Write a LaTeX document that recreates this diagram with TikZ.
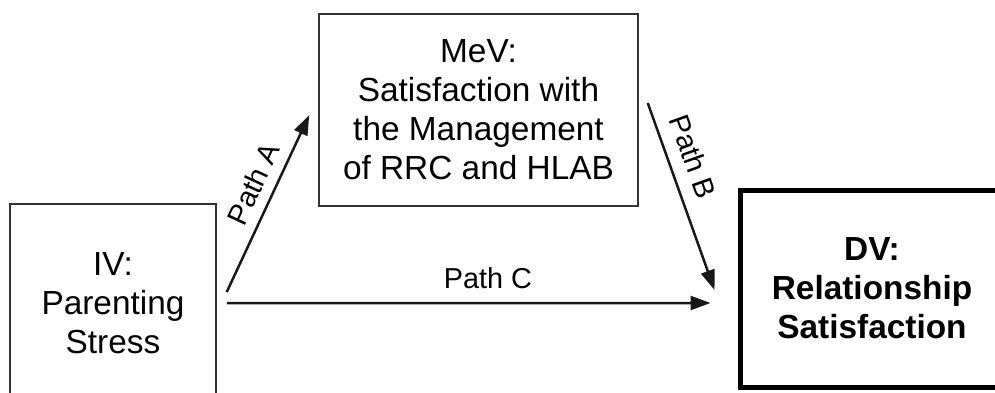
\documentclass[tikz,border=0pt]{standalone}
\usepackage{fontspec}
\setmainfont{Liberation Sans}
\usetikzlibrary{arrows.meta}

\tikzset{
	varbox/.style={draw, line width=0.3mm, color=black!80, text=black, align=center, inner sep=0pt, font=\fontsize{19}{22.2}\selectfont},
	patharrow/.style={line width=0.5mm, color=black!90, -{Triangle[length=0.4cm, width=0.28cm]}},
	pathlabel/.style={font=\fontsize{16.4}{19}\selectfont, text=black, sloped, inner sep=0pt}
}

\begin{document}
\begin{tikzpicture}
	%%%%% START %%%%%
	
	\useasboundingbox (0, 0) rectangle (19.9, 7.84);
	
	\node[varbox, minimum width=4.12cm, minimum height=3.96cm] (iv) at (2.26, 1.78) {IV:\\Parenting\\Stress};
	\node[varbox, minimum width=6.38cm, minimum height=3.84cm] (mev) at (9.57, 5.64) {MeV:\\Satisfaction with\\the Management\\of RRC and HLAB};
	\node[varbox, line width=1mm, color=black, minimum width=5.28cm, minimum height=3.94cm, font=\fontsize{19}{22.2}\selectfont\bfseries] (dv) at (17.44, 2.07) {DV:\\Relationship\\Satisfaction};
	
	\draw[patharrow] ([shift={(0.2, 0.22)}]iv.east) -- node[pathlabel, pos=0.56, above=0.2cm] {Path A} ([shift={(-0.18, -0.1)}]mev.west);
	\draw[patharrow] ([shift={(0.18, 0.14)}]mev.east) -- node[pathlabel, pos=0.33, above=0.26cm] {Path B} ([shift={(-0.46, -0.03)}]dv.west);
	\draw[patharrow] ([shift={(0.2, 0)}]iv.east) -- node[pathlabel, pos=0.54, above=0.26cm] {Path C} ([shift={(-0.54, -0.29)}]dv.west);
	
	%%%%% END %%%%%
\end{tikzpicture}
\end{document}
